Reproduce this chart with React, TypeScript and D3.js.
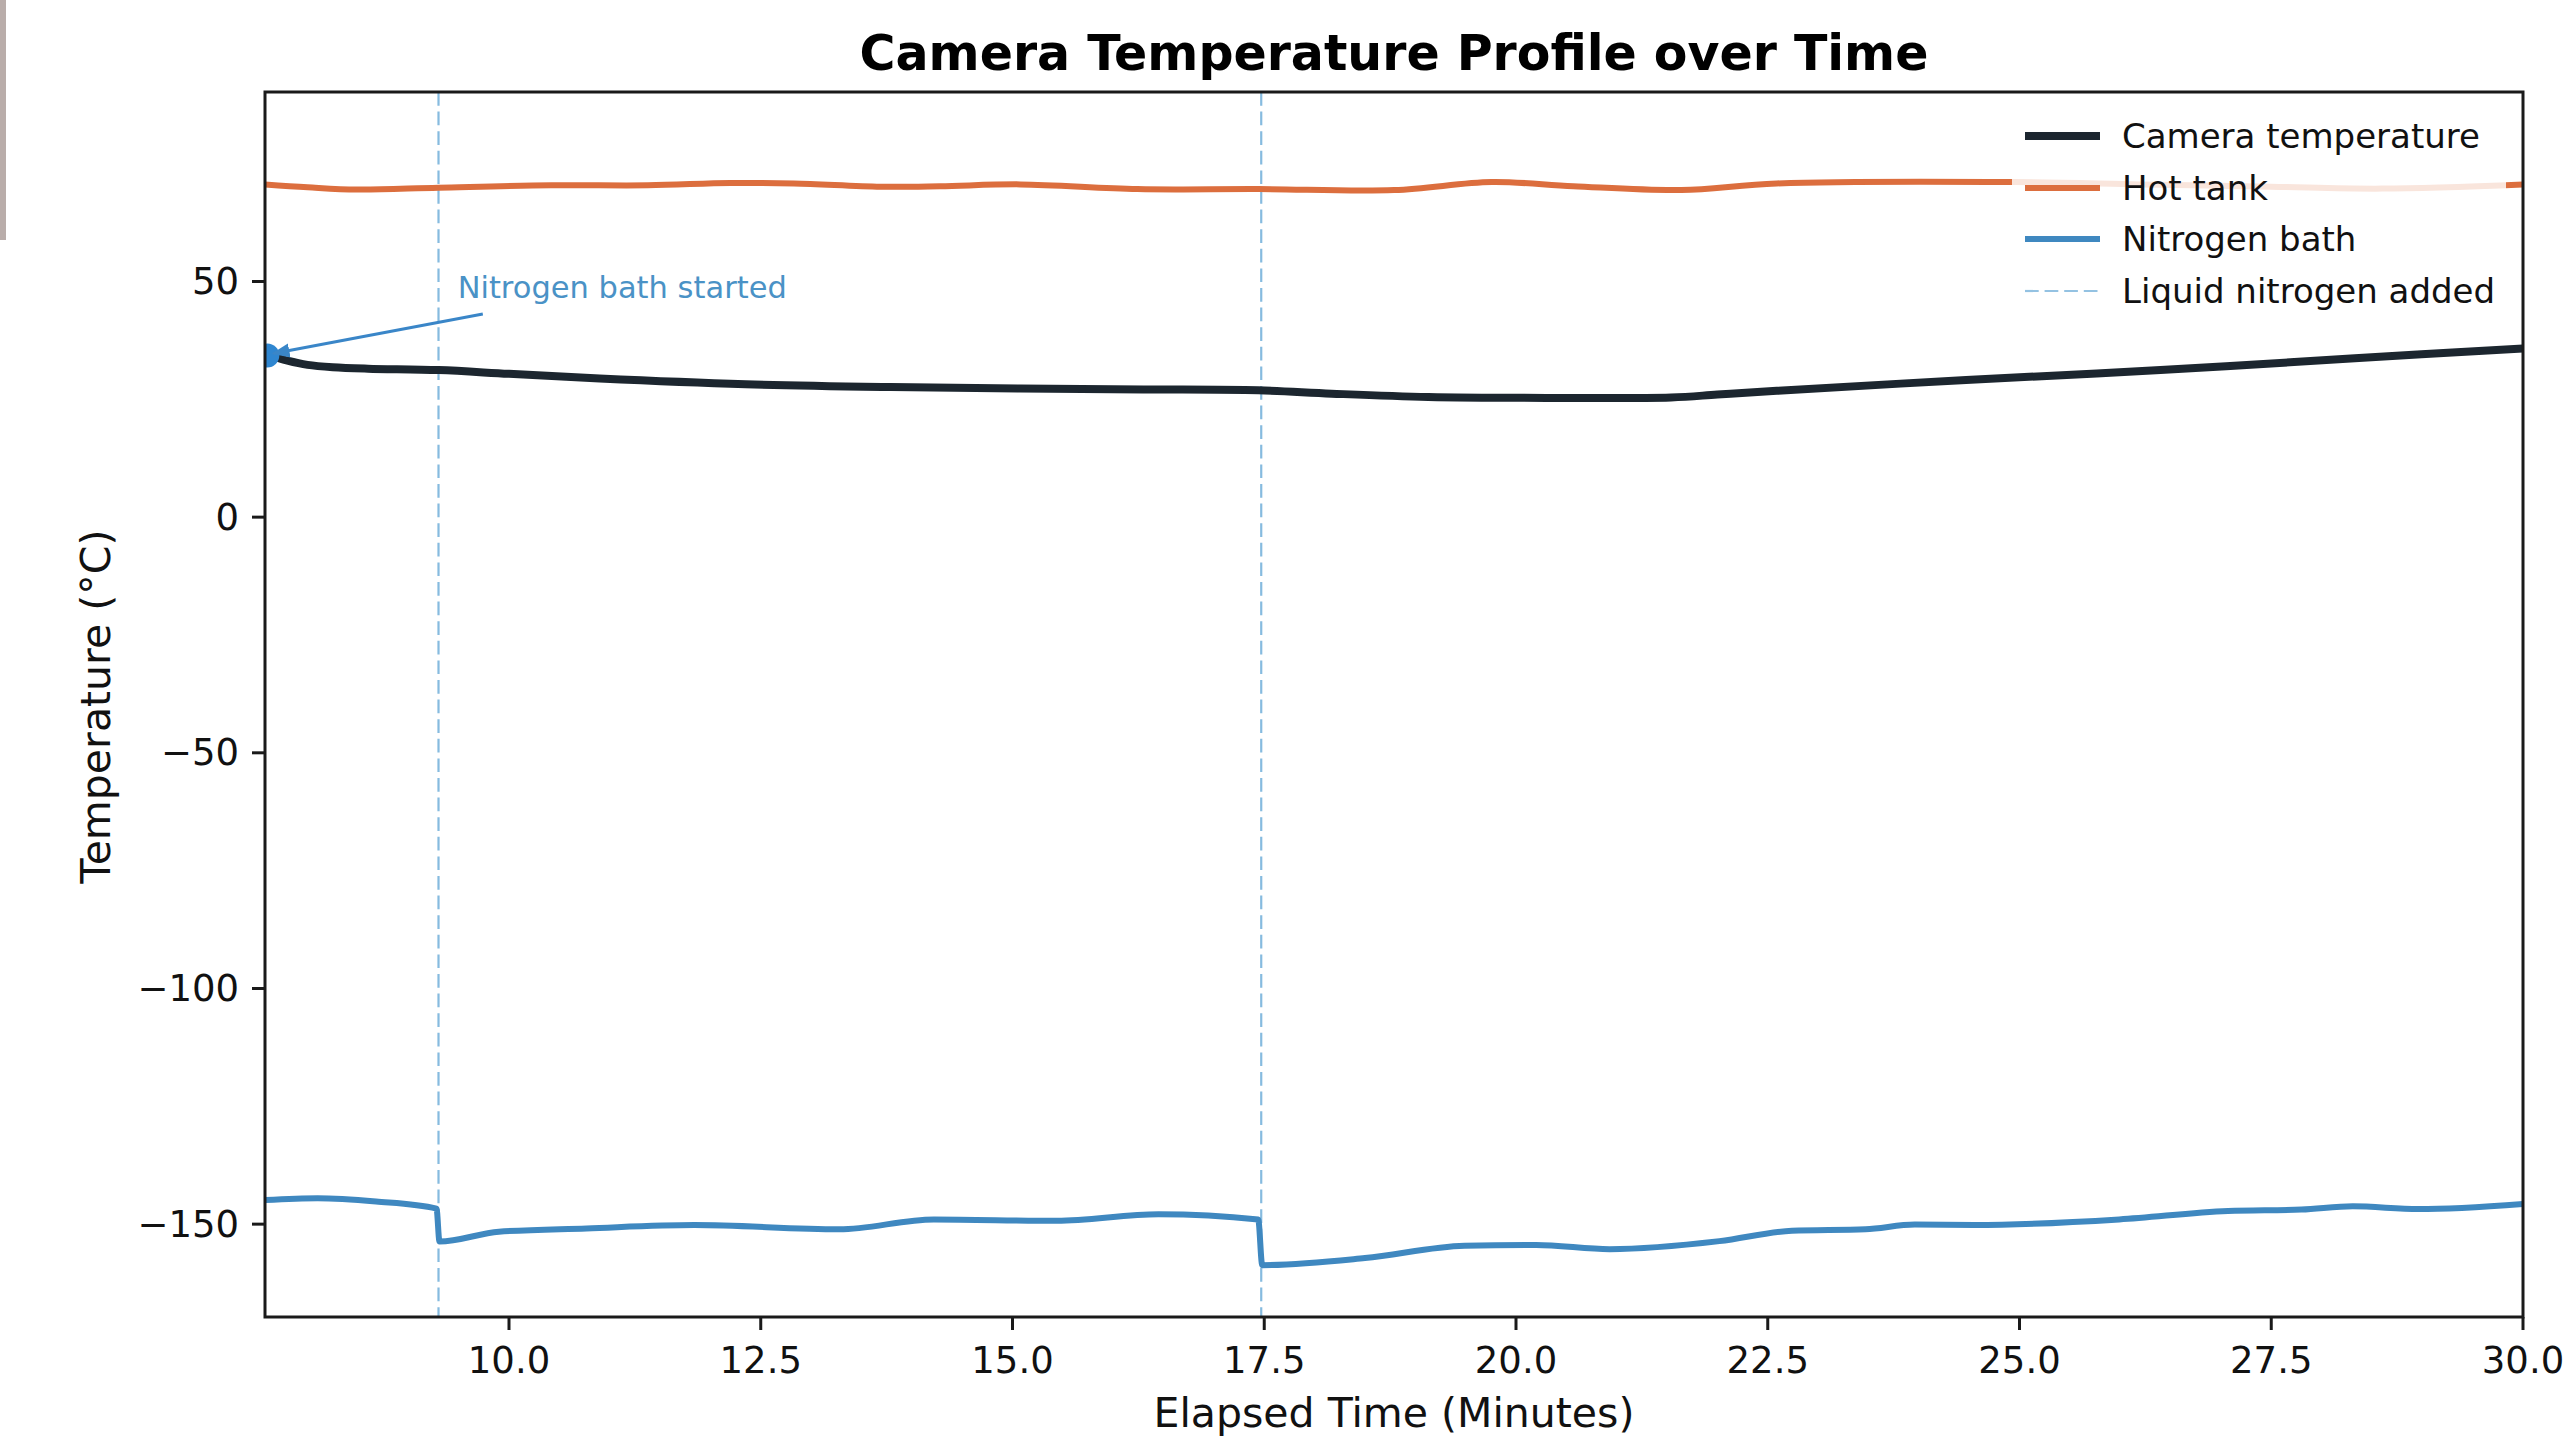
import React from "react";
import * as d3 from "d3";

// ---- data ----
const cameraTime = [7.577, 7.8, 8.0, 8.25, 8.6, 9.3, 10.0, 10.9, 12.35, 13.79, 15.08, 16.3, 17.44, 18.17, 19.13, 20.33, 21.54, 22.0, 22.59, 24.47, 26.4, 28.33, 30.0];
const cameraTemp = [34.6, 33.2, 32.3, 31.8, 31.5, 31.2, 30.4, 29.4, 28.2, 27.6, 27.3, 27.1, 26.9, 26.2, 25.5, 25.3, 25.4, 26.0, 26.8, 29.1, 31.2, 33.7, 35.8];

const hotTime = [7.577, 8.0, 8.49, 9.3, 10.42, 11.38, 12.2, 12.83, 13.69, 14.28, 15.08, 16.24, 17.44, 18.79, 19.76, 20.57, 21.64, 22.59, 24.95, 26.2, 27.5, 28.6, 30.0];
const hotTemp = [70.6, 70.0, 69.5, 69.9, 70.4, 70.4, 70.9, 70.8, 70.1, 70.2, 70.6, 69.6, 69.6, 69.4, 71.1, 70.2, 69.4, 70.8, 71.1, 70.6, 70.1, 69.7, 70.6];

const nitroTime = [7.577, 8.1, 8.68, 9.28, 9.31, 9.9, 10.77, 11.84, 13.28, 14.22, 15.44, 16.45, 17.44, 17.48, 18.5, 19.49, 20.2, 20.93, 22.02, 22.74, 23.47, 23.96, 24.55, 25.99, 27.07, 27.8, 28.31, 28.96, 30.0];
const nitroTemp = [-144.9, -144.5, -145.2, -146.7, -153.7, -151.6, -150.9, -150.2, -151.1, -149.0, -149.3, -147.9, -149.0, -158.7, -157.2, -154.6, -154.4, -155.3, -153.6, -151.4, -151.1, -150.1, -150.2, -149.0, -147.2, -146.9, -146.2, -146.8, -145.7];

const nitrogenAdded = [9.3, 17.47];

const xTicks = [10, 12.5, 15, 17.5, 20, 22.5, 25, 27.5, 30];
const yTicks = [-150, -100, -50, 0, 50];

const seriesNames = ["Camera temperature", "Hot tank", "Nitrogen bath", "Liquid nitrogen added"];
const titleText = "Camera Temperature Profile over Time";
const xLabel = "Elapsed Time (Minutes)";
const yLabel = "Temperature (°C)";
const annotationText = "Nitrogen bath started";
const annotationPoint = [7.6, 34.3];
const annotationTextPos = [9.49, 46.5];
const annotationArrowStart = [9.74, 43.1];

// ---- styles ----
const W = 2566, H = 1441;
const L = 265, R = 2523, T = 92, B = 1317;
const FONT = "DejaVu Sans, sans-serif";
const C_CAM = "#1c262f";
const C_HOT = "#dc6e3e";
const C_N2 = "#3f88c0";
const C_DASH = "#7ab4dc";
const C_ANN = "#4a92c6";

export default function App() {
  const x = d3.scaleLinear().domain([7.577, 30]).range([L, R]);
  const y = d3.scaleLinear().domain([-169.7, 90.2]).range([B, T]);
  const mk = (ts: number[], vs: number[], curve: any) =>
    d3
      .line<number[]>()
      .x((d: any) => x(d[0]))
      .y((d: any) => y(d[1]))
      .curve(curve)(ts.map((t, i) => [t, vs[i]])) || "";

  const fmtX = (v: number) => v.toFixed(1);
  const fmtY = (v: number) => (v < 0 ? "\u2212" + Math.abs(v) : String(v));

  const ax0 = x(annotationArrowStart[0]), ay0 = y(annotationArrowStart[1]);
  const ax1 = x(annotationPoint[0]), ay1 = y(annotationPoint[1]);

  const legendRows = [136, 188, 239, 291];

  return (
    <svg width={W} height={H} style={{ position: "absolute", left: 0, top: 0, display: "block", background: "#fff" }} fontFamily={FONT}>
      <defs>
        <clipPath id="plot">
          <rect x={L} y={T} width={R - L} height={B - T} />
        </clipPath>
        <marker id="ah" viewBox="0 0 10 10" refX="9" refY="5" markerWidth="6" markerHeight="6" orient="auto" markerUnits="strokeWidth">
          <path d="M0,1 L10,5 L0,9 z" fill="#3a86c8" />
        </marker>
      </defs>
      <rect x={0} y={0} width={W} height={H} fill="#fff" />
      <rect x={0} y={0} width={6} height={240} fill="#b9adaa" />

      {/* title */}
      <text x={(L + R) / 2} y={70} textAnchor="middle" fontSize={49} fontWeight="bold" fill="#000">{titleText}</text>

      <g clipPath="url(#plot)">
        {nitrogenAdded.map((t, i) => (
          <line key={i} x1={x(t)} x2={x(t)} y1={T} y2={B} stroke={C_DASH} strokeWidth={2.2} strokeDasharray="13.7,5.9" opacity={0.9} />
        ))}
        <path d={mk(hotTime, hotTemp, d3.curveCatmullRom.alpha(0.5))} fill="none" stroke={C_HOT} strokeWidth={6} strokeLinejoin="round" />
        <path d={mk(nitroTime, nitroTemp, d3.curveMonotoneX)} fill="none" stroke={C_N2} strokeWidth={6} strokeLinejoin="round" />
        <path d={mk(cameraTime, cameraTemp, d3.curveCatmullRom.alpha(0.5))} fill="none" stroke={C_CAM} strokeWidth={8} strokeLinejoin="round" />
        <circle cx={ax1} cy={ay1} r={12} fill="#2f86d0" />
        <line x1={ax0} y1={ay0} x2={ax1 + 6} y2={ay1 - 2} stroke="#3a86c8" strokeWidth={3} markerEnd="url(#ah)" />
      </g>

      <text x={x(annotationTextPos[0])} y={y(annotationTextPos[1])} fontSize={30.5} fill={C_ANN}>{annotationText}</text>

      {/* legend */}
      <rect x={2012} y={100} width={494} height={218} fill="#fff" opacity={0.82} />
      {legendRows.map((ly, i) => {
        const stroke = i === 0 ? C_CAM : i === 1 ? C_HOT : i === 2 ? C_N2 : C_DASH;
        const sw = i === 0 ? 8 : i === 3 ? 2.2 : 6;
        return (
          <g key={i}>
            <line x1={2025} x2={2100} y1={ly} y2={ly} stroke={stroke} strokeWidth={sw} strokeDasharray={i === 3 ? "13.7,5.9" : undefined} opacity={i === 3 ? 0.8 : 1} />
            <text x={2122} y={ly} dominantBaseline="central" fontSize={34} fill="#111">{seriesNames[i]}</text>
          </g>
        );
      })}

      {/* axes frame */}
      <rect x={L} y={T} width={R - L} height={B - T} fill="none" stroke="#1a1a1a" strokeWidth={3} />

      {/* x ticks */}
      {xTicks.map((t) => (
        <g key={"x" + t}>
          <line x1={x(t)} x2={x(t)} y1={B} y2={B + 13} stroke="#1a1a1a" strokeWidth={3} />
          <text x={x(t)} y={1373} textAnchor="middle" fontSize={37} fill="#111">{fmtX(t)}</text>
        </g>
      ))}
      {/* y ticks */}
      {yTicks.map((t) => (
        <g key={"y" + t}>
          <line x1={L - 13} x2={L} y1={y(t)} y2={y(t)} stroke="#1a1a1a" strokeWidth={3} />
          <text x={239} y={y(t)} textAnchor="end" dominantBaseline="central" fontSize={37} fill="#111">{fmtY(t)}</text>
        </g>
      ))}

      <text x={(L + R) / 2} y={1427} textAnchor="middle" fontSize={41} fill="#111">{xLabel}</text>
      <text transform={`translate(110, ${(T + B) / 2 + 2}) rotate(-90)`} textAnchor="middle" fontSize={41} fill="#111">{yLabel}</text>
    </svg>
  );
}
